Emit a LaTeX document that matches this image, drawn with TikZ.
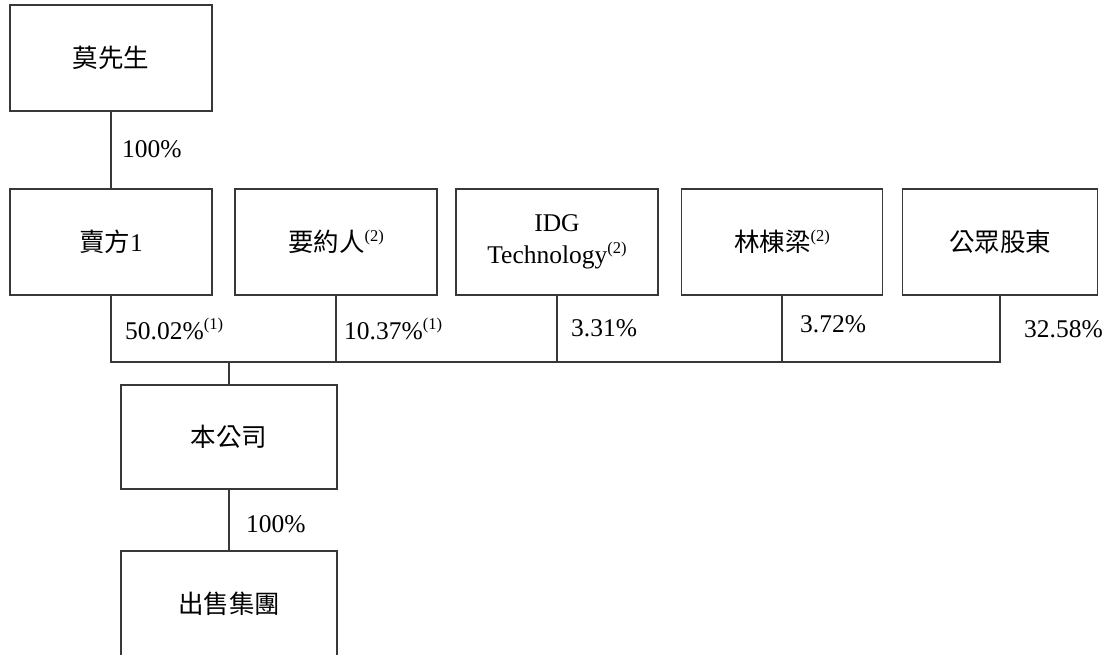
\documentclass[tikz,border=0pt]{standalone}
\usepackage{fontspec}
\setmainfont{Liberation Serif}
\newfontfamily\cjk{Noto Sans CJK TC}
\newcommand\myfn[1]{\raisebox{10.5pt}{\fontsize{16.5}{16.5}\selectfont(#1)}}
\begin{document}
\begin{tikzpicture}[x=1pt,y=-1pt,
  box/.style={draw=black!78, line width=1.3pt, inner sep=0pt, align=center,
    minimum width=202pt, minimum height=106pt, font=\fontsize{25.5}{32}\selectfont},
  conn/.style={draw=black!78, line width=1.3pt},
  pct/.style={anchor=west, inner sep=0pt, font=\fontsize{25.5}{31}\selectfont}]
\useasboundingbox (0,0) rectangle (1113,654);
\clip (0,0) rectangle (1113,654);
% boxes
\node[box] (moo) at (111,58) {{\cjk 莫先生}};
\node[box] (s1) at (111,242) {{\cjk 賣方}1};
\node[box] (off) at (336,242) {{\cjk 要約人}\myfn{2}};
\node[box] (idg) at (557,242) {IDG\\Technology\myfn{2}};
\node[box, minimum width=201pt] (lin) at (782,242) {{\cjk 林棟梁}\myfn{2}};
\node[box, minimum width=195pt] (pub) at (1000,242) {{\cjk 公眾股東}};
\node[box, minimum width=216pt, minimum height=104pt] (co) at (229,437) {{\cjk 本公司}};
\node[box, minimum width=216pt, minimum height=106pt] (sale) at (229,604) {{\cjk 出售集團}};
% bus
\coordinate (bus) at (0,362);
\draw[conn] (moo.south) -- (s1.north);
\draw[conn] (s1.south) -- (s1.south |- bus) -- (pub.south |- bus) -- (pub.south);
\draw[conn] (off.south) -- (off.south |- bus);
\draw[conn] (idg.south) -- (idg.south |- bus);
\draw[conn] (lin.south) -- (lin.south |- bus);
\draw[conn] (co.north |- bus) -- (co.north);
\draw[conn] (co.south) -- (sale.north);
% labels
\node[pct] (l1) at (122,149) {100\%};
\node[pct] (l2) at (125,329) {50.02\%\myfn{1}};
\node[pct] (l3) at (344,329) {10.37\%\myfn{1}};
\node[pct] (l4) at (571,328) {3.31\%};
\node[pct] (l5) at (800,324) {3.72\%};
\node[pct] (l6) at (1024,329) {32.58\%};
\node[pct] (l7) at (246,524) {100\%};
\end{tikzpicture}
\end{document}
